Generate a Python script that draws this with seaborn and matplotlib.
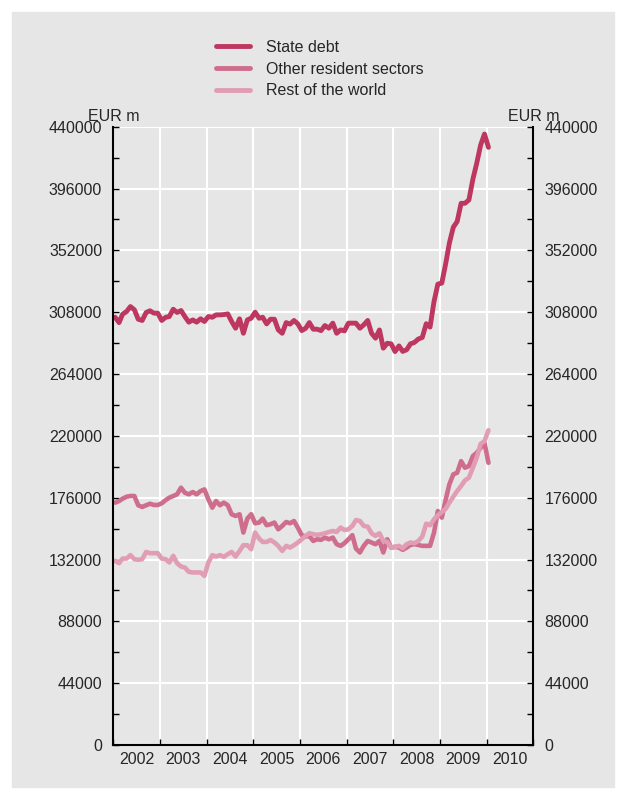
import pandas as pd
import matplotlib
matplotlib.use("Agg")
import matplotlib.pyplot as plt
import matplotlib.dates as mdates
from matplotlib.ticker import MultipleLocator, FuncFormatter, NullFormatter
from matplotlib.patches import Rectangle
import seaborn as sns

# Monthly observations, Jan 2002 - Jan 2010 (EUR m)
months = pd.date_range("2002-01-01", periods=97, freq="MS") + pd.Timedelta(days=14)

state_debt = [
    304400, 300600, 306600, 308500, 312000, 309700, 303000, 302100, 307800, 309000, 307300, 307300,
    302100, 304400, 304900, 310100, 307800, 309200, 304900, 300900, 302500, 300900, 303300, 301400,
    304900, 304400, 306100, 306100, 306300, 306800, 301400, 296600, 303300, 293000, 302500, 303700,
    308000, 303700, 304400, 299700, 303000, 303000, 295400, 293000, 300600, 299500, 302100, 299700,
    294900, 296600, 300600, 295900, 295900, 294900, 298500, 296600, 300200, 293000, 295400, 294700,
    300200, 300200, 300200, 296600, 299000, 302100, 293000, 289500, 295400, 282400, 285900, 285500,
    280000, 284000, 280100, 281300, 285500, 286500, 288900, 290000, 299800, 297400, 315600, 328000,
    328700, 342900, 357100, 368500, 372500, 385500, 385500, 387900, 402600, 413900, 427000, 434800,
    425300,
]

other_resident = [
    172450, 173600, 175300, 176700, 177200, 177200, 170600, 169400, 170600, 171700, 170800, 170800,
    172000, 174300, 176000, 177200, 178400, 183100, 179500, 178400, 180000, 178400, 180700, 181900,
    174800, 168900, 173600, 170600, 172500, 170600, 164200, 163000, 164200, 151200, 161100, 164200,
    157800, 158300, 161100, 156400, 157100, 158300, 153500, 155900, 158700, 157800, 159400, 154700,
    149300, 148300, 148800, 145200, 146400, 146000, 147600, 146400, 147600, 142900, 141700, 143600,
    146400, 149300, 139800, 137000, 141700, 145200, 144100, 142900, 145200, 137000, 146400, 140500,
    141000, 140500, 138900, 140500, 142400, 142900, 142400, 141700, 141700, 141700, 151200, 166500,
    161800, 174800, 185500, 192600, 193700, 202000, 197300, 198500, 205600, 207900, 211500, 215000,
    200800,
]

rest_of_world = [
    131050, 129400, 132700, 132700, 135100, 132200, 131800, 132200, 137400, 136500, 136500, 136500,
    132700, 132200, 129900, 134600, 129400, 127000, 126300, 123200, 122800, 122800, 122800, 120400,
    129900, 135100, 134100, 135100, 133900, 135800, 137400, 134100, 138100, 142200, 142200, 139300,
    151200, 146900, 144500, 144500, 145900, 144100, 141700, 138100, 141700, 140500, 142200, 144100,
    146400, 148800, 150700, 150000, 149500, 150000, 150700, 151600, 152300, 151600, 154700, 153000,
    153500, 155900, 160100, 159400, 155900, 155400, 150700, 148800, 150700, 145200, 144500, 140500,
    141000, 141700, 140000, 142900, 144100, 143600, 145200, 148300, 157500, 156400, 160600, 163500,
    165800, 168200, 172500, 176700, 180700, 184300, 188300, 190200, 197300, 204400, 214300, 216200,
    224000,
]

series_names = ["State debt", "Other resident sectors", "Rest of the world"]
series_colors = ["#bd3760", "#cf6d8c", "#e19db4"]
series_widths = [3.5, 3.3, 3.3]

df = pd.DataFrame({
    "date": months,
    "State debt": state_debt,
    "Other resident sectors": other_resident,
    "Rest of the world": rest_of_world,
})
long_df = df.melt(id_vars="date", var_name="series", value_name="value")

bg = "#e6e6e6"
sns.set_style("darkgrid", {"axes.facecolor": bg, "grid.color": "white"})
plt.rcParams["font.family"] = ["Liberation Sans", "DejaVu Sans"]
plt.rcParams["font.size"] = 11.5

fig = plt.figure(figsize=(6.26, 7.99), dpi=100)
fig.patch.set_facecolor("white")
fig.patches.append(Rectangle((12 / 626, 12 / 799), 602 / 626, 775 / 799,
                             transform=fig.transFigure, color=bg, zorder=-1))
ax = fig.add_axes([113.3 / 626, 54 / 799, 420 / 626, 618.3 / 799])

for name, col, lw in zip(series_names, series_colors, series_widths):
    sns.lineplot(data=long_df[long_df["series"] == name], x="date", y="value",
                 color=col, linewidth=lw, label=name, ax=ax, legend=False)

# x axis: year boundaries as ticks/grid, labels centred in each year
ax.set_xlim(pd.Timestamp("2002-01-01"), pd.Timestamp("2011-01-01"))
ax.xaxis.set_major_locator(mdates.YearLocator())
ax.xaxis.set_major_formatter(NullFormatter())
ax.xaxis.set_minor_locator(mdates.MonthLocator(bymonth=7, bymonthday=1))
ax.xaxis.set_minor_formatter(mdates.DateFormatter("%Y"))
ax.tick_params(axis="x", which="major", direction="in", length=4, width=1, color="black", bottom=True)
ax.tick_params(axis="x", which="minor", length=0, pad=5, labelsize=11.5)

# y axis
ax.set_ylim(0, 440000)
ax.yaxis.set_major_locator(MultipleLocator(44000))
ax.yaxis.set_minor_locator(MultipleLocator(22000))
ax.yaxis.set_major_formatter(FuncFormatter(lambda v, p: f"{v:.0f}"))
ax.tick_params(axis="y", which="both", direction="in", length=4, width=1, color="black",
               left=True, right=True, labelleft=True, labelright=True, labelsize=11.5, pad=8)

ax.grid(which="major", color="white", linewidth=1.5)
ax.grid(which="minor", visible=False)
ax.set_xlabel("")
ax.set_ylabel("")

for side in ["left", "right", "bottom"]:
    ax.spines[side].set_visible(True)
    ax.spines[side].set_color("black")
    ax.spines[side].set_linewidth(1.5)
ax.spines["top"].set_visible(False)

ax.annotate("EUR m", xy=(0, 1), xycoords="axes fraction", xytext=(0, 2),
            textcoords="offset points", ha="center", va="bottom", fontsize=11.5)
ax.annotate("EUR m", xy=(1, 1), xycoords="axes fraction", xytext=(0, 2),
            textcoords="offset points", ha="center", va="bottom", fontsize=11.5)

handles, labels = ax.get_legend_handles_labels()
leg = fig.legend(handles, labels, loc="upper left", bbox_to_anchor=(216 / 626, 1 - 40 / 799),
                 frameon=False, fontsize=11.5, handlelength=2.1, handletextpad=1.05,
                 labelspacing=0.42, borderpad=0, borderaxespad=0)
for line in leg.get_lines():
    line.set_linewidth(3.5)

fig.savefig("out.png", dpi=100, facecolor="white")
